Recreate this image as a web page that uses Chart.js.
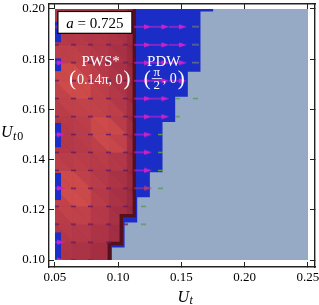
<!DOCTYPE html>
<html>
<head>
<meta charset="utf-8">
<script src="https://cdn.jsdelivr.net/npm/chart.js@4.4.1/dist/chart.umd.min.js"></script>
<style>
html,body{margin:0;padding:0;background:#ffffff;overflow:hidden;}
canvas{display:block;}
</style>
</head>
<body>
<canvas id="chart" width="319" height="305"></canvas>
<script>
// ---------------- data ----------------
const xTicks = [0.05, 0.10, 0.15, 0.20, 0.25];
const yTicks = [0.10, 0.12, 0.14, 0.16, 0.18, 0.20];
const xAxisRange = [0.045257, 0.255534];
const yAxisRange = [0.097233, 0.201976];
const domainX = [0.05, 0.25];
const domainY = [0.10, 0.20];

// PDW (blue) phase: right edge of the blue region in each U_t0 band
const pdwBandY = [0.100, 0.105, 0.115, 0.125, 0.135, 0.155, 0.165, 0.175, 0.199, 0.200];
const pdwEdgeX = [0.095, 0.105, 0.115, 0.125, 0.135, 0.145, 0.155, 0.165, 0.175];

// PWS* (red) phase: right edge in each U_t0 band
const pwsBandY = [0.100, 0.1066, 0.1177, 0.200];
const pwsEdgeX = [0.0929, 0.1024, 0.1127];

// thin PDW slivers along the left edge of the PWS* region
const stripY0 = [0.1000, 0.1238, 0.1448, 0.1752, 0.1866];
const stripY1 = [0.1111, 0.1348, 0.1547, 0.1804, 0.1950];
const stripX = 0.0548;

// shading of the PWS* region (rows bottom -> top, columns left -> right)
const shadeX = [0.05, 0.0643, 0.0786, 0.0929, 0.1071, 0.1214];
const shadeY = [0.1000, 0.1071, 0.1143, 0.1214, 0.1286, 0.1357, 0.1429, 0.1500,
                0.1571, 0.1643, 0.1714, 0.1786, 0.1857, 0.1929, 0.2000];
const pwsShade = [
  [0.25, 0.25, 0.20, 0.15, 0.10, 0.0],
  [0.30, 0.30, 0.25, 0.20, 0.10, 0.0],
  [0.35, 0.45, 0.35, 0.25, 0.15, 0.0],
  [0.40, 0.60, 0.45, 0.30, 0.15, 0.0],
  [0.45, 0.85, 0.45, 0.30, 0.20, 0.0],
  [0.45, 0.50, 0.40, 0.30, 0.20, 0.0],
  [0.35, 0.35, 0.40, 0.50, 0.25, 0.0],
  [0.30, 0.35, 0.40, 0.85, 0.30, 0.0],
  [0.35, 0.40, 0.45, 0.55, 0.30, 0.0],
  [0.45, 0.55, 0.45, 0.40, 0.25, 0.0],
  [0.45, 0.85, 0.50, 0.35, 0.20, 0.0],
  [0.40, 0.55, 0.40, 0.30, 0.20, 0.0],
  [0.35, 0.40, 0.35, 0.30, 0.20, 0.0],
  [0.30, 0.30, 0.30, 0.30, 0.20, 0.0],
  [0.30, 0.30, 0.30, 0.30, 0.20, 0.0]
];

// vector field sample points and marker kind per row (bottom -> top)
// B: strong arrow, b: weak arrow, R: short dash (PWS*), G: gray dash, g: green dash
const vecX = [0.0508, 0.0646, 0.0783, 0.0921, 0.1058, 0.1196, 0.1333, 0.1471,
              0.1608, 0.1746, 0.1883, 0.2021, 0.2158, 0.2296, 0.2433];
const vecY = [0.1000, 0.1071, 0.1143, 0.1214, 0.1286, 0.1357, 0.1429, 0.1500,
              0.1571, 0.1643, 0.1714, 0.1786, 0.1857, 0.1929];
const vecRows = [
  "BRR",
  "BRRR",
  "RRRRRg",
  "RRRRRg",
  "BRRRRbg",
  "RRRRRBg",
  "RRRRRBg",
  "BRRRRBg",
  "RRRRRBBg",
  "RRRRRBBgg",
  "RRRRRBBB",
  "BRRRRBBBG",
  "RRRRRBBBG",
  "BRRRRBBBG"
];

// ---------------- helpers ----------------
const COL = { gray: '#97aac5', blue: '#1a2dc6', red: '#b0384c', edge: '#55101e', frame: '#222222' };
const SERIF = '"Liberation Serif", "DejaVu Serif", serif';
const NONE = 'rgba(0,0,0,0)';

function pdwPolygon() {
  const pts = [{x: domainX[0], y: domainY[0]}];
  for (let k = 0; k < pdwEdgeX.length; k++) {
    pts.push({x: pdwEdgeX[k], y: pdwBandY[k]});
    pts.push({x: pdwEdgeX[k], y: pdwBandY[k + 1]});
  }
  pts.push({x: domainX[0], y: domainY[1]});
  pts.push({x: domainX[0], y: domainY[0]});
  return pts;
}
function pwsStair() {
  const pts = [];
  for (let k = pwsEdgeX.length - 1; k >= 0; k--) {
    pts.push({x: pwsEdgeX[k], y: pwsBandY[k + 1]});
    pts.push({x: pwsEdgeX[k], y: pwsBandY[k]});
  }
  return pts;
}
function pwsPolygon() {
  const pts = [{x: domainX[0], y: domainY[0]}];
  for (let s = 0; s < stripY0.length; s++) {
    pts.push({x: domainX[0], y: stripY0[s]});
    pts.push({x: stripX, y: stripY0[s]});
    pts.push({x: stripX, y: stripY1[s]});
    pts.push({x: domainX[0], y: stripY1[s]});
  }
  pts.push({x: domainX[0], y: domainY[1]});
  return pts.concat(pwsStair(), [{x: domainX[0], y: domainY[0]}]);
}
function grayRect() {
  return [{x: domainX[0], y: domainY[0]}, {x: domainX[1], y: domainY[0]},
          {x: domainX[1], y: domainY[1]}, {x: domainX[0], y: domainY[1]},
          {x: domainX[0], y: domainY[0]}];
}
function vecPoints(kind) {
  const pts = [];
  vecRows.forEach((row, j) => {
    for (let i = 0; i < row.length; i++) if (row[i] === kind) pts.push({x: vecX[i], y: vecY[j]});
  });
  return pts;
}
const shadeStops = [[0, [140, 34, 58]], [0.3, [176, 54, 72]], [0.6, [204, 74, 74]], [1, [232, 100, 80]]];
function shadeColor(v) {
  for (let k = 1; k < shadeStops.length; k++) {
    const [v0, c0] = shadeStops[k - 1], [v1, c1] = shadeStops[k];
    if (v <= v1) {
      const t = (v - v0) / (v1 - v0);
      return 'rgb(' + c0.map((c, q) => Math.round(c + (c1[q] - c) * t)).join(',') + ')';
    }
  }
  return 'rgb(232,100,80)';
}
function mkCanvas(w, h, draw) {
  const c = document.createElement('canvas'); c.width = w; c.height = h; draw(c.getContext('2d')); return c;
}
function arrowStyle(color) {
  return mkCanvas(18, 6, g => {
    g.strokeStyle = color; g.lineWidth = 1.2;
    g.beginPath(); g.moveTo(0, 3); g.lineTo(11, 3); g.stroke();
    g.fillStyle = color; g.beginPath(); g.moveTo(10, 0.4); g.lineTo(18, 3); g.lineTo(10, 5.6); g.closePath(); g.fill();
  });
}
function dashStyle(color, len, w) {
  return mkCanvas(len, 3, g => {
    g.strokeStyle = color; g.lineWidth = w;
    g.beginPath(); g.moveTo(0, 1.5); g.lineTo(len, 1.5); g.stroke();
  });
}
const dataClip = {left: -6, right: -7, top: -5, bottom: -7};

function polyDataset(label, data, color, order) {
  return { label, data, showLine: true, fill: 'shape', backgroundColor: color,
           borderWidth: 1, borderColor: NONE, pointRadius: 0, tension: 0, order, clip: dataClip };
}
function vecDataset(label, kind, style, order) {
  return { label, data: vecPoints(kind), showLine: false, pointStyle: style, pointRadius: 3,
           pointHoverRadius: 3, order, clip: dataClip };
}

// ---------------- plugins ----------------
const pwsTexture = {
  id: 'pwsTexture',
  afterDatasetDraw(chart, args) {
    if (chart.data.datasets[args.index].label !== 'PWS*') return;
    const {ctx} = chart, sx = chart.scales.x, sy = chart.scales.y;
    const P = (xv, yv) => [sx.getPixelForValue(xv), sy.getPixelForValue(yv)];
    ctx.save();
    ctx.beginPath();
    pwsPolygon().forEach((p, i) => { const [a, b] = P(p.x, p.y); i ? ctx.lineTo(a, b) : ctx.moveTo(a, b); });
    ctx.closePath();
    ctx.clip();
    const tri = (v) => {
      const avg = (pwsShade[v[0][1]][v[0][0]] + pwsShade[v[1][1]][v[1][0]] + pwsShade[v[2][1]][v[2][0]]) / 3;
      const c = shadeColor(avg);
      ctx.fillStyle = c; ctx.strokeStyle = c; ctx.lineWidth = 0.6;
      ctx.beginPath();
      v.forEach((q, n) => { const [a, b] = P(shadeX[q[0]], shadeY[q[1]]); n ? ctx.lineTo(a, b) : ctx.moveTo(a, b); });
      ctx.closePath(); ctx.fill(); ctx.stroke();
    };
    for (let j = 0; j < shadeY.length - 1; j++) {
      for (let i = 0; i < shadeX.length - 1; i++) {
        tri([[i, j + 1], [i + 1, j], [i, j]]);
        tri([[i, j + 1], [i + 1, j + 1], [i + 1, j]]);
      }
    }
    ctx.restore();
  }
};

function drawRuns(ctx, runs, x, baseline) {
  let cx = x;
  runs.forEach(r => {
    ctx.font = r.font;
    ctx.fillText(r.t, cx, baseline + (r.dy || 0));
    cx += ctx.measureText(r.t).width + (r.gap || 0);
  });
  return cx;
}
function runsWidth(ctx, runs) {
  let w = 0;
  runs.forEach(r => { ctx.font = r.font; w += ctx.measureText(r.t).width + (r.gap || 0); });
  return w;
}

const annotations = {
  id: 'annotations',
  afterDraw(chart) {
    const {ctx} = chart, sx = chart.scales.x, sy = chart.scales.y;
    ctx.save();
    ctx.textAlign = 'left';
    ctx.textBaseline = 'alphabetic';
    // parameter box
    const bx0 = sx.getPixelForValue(0.0523), bx1 = sx.getPixelForValue(0.1108);
    const by0 = sy.getPixelForValue(0.1990), by1 = sy.getPixelForValue(0.1903);
    ctx.fillStyle = '#ffffff';
    ctx.fillRect(bx0, by0, bx1 - bx0, by1 - by0);
    ctx.strokeStyle = '#000000'; ctx.lineWidth = 1.2;
    ctx.strokeRect(bx0, by0, bx1 - bx0, by1 - by0);
    ctx.fillStyle = '#000000';
    const aRuns = [{t: 'a', font: 'italic 15px ' + SERIF}, {t: ' = 0.725', font: '15px ' + SERIF}];
    const aw = runsWidth(ctx, aRuns);
    drawRuns(ctx, aRuns, (bx0 + bx1) / 2 - aw / 2, by1 - 5);

    // PWS* label
    ctx.fillStyle = '#ffffff';
    const pa = [sx.getPixelForValue(0.0861), sy.getPixelForValue(0.1772)];
    const r1 = [{t: 'PWS*', font: '15px ' + SERIF}];
    drawRuns(ctx, r1, pa[0] - runsWidth(ctx, r1) / 2, pa[1]);
    const r2 = [{t: '(', font: '21px ' + SERIF, gap: 1}, {t: '0.14\u03c0, 0', font: '14px ' + SERIF, dy: -1, gap: 1},
                {t: ')', font: '21px ' + SERIF}];
    drawRuns(ctx, r2, pa[0] - runsWidth(ctx, r2) / 2 - 1, pa[1] + 19);

    // PDW label
    const pb = [sx.getPixelForValue(0.1360), sy.getPixelForValue(0.1772)];
    const r3 = [{t: 'PDW', font: '15px ' + SERIF}];
    drawRuns(ctx, r3, pb[0] - runsWidth(ctx, r3) / 2, pb[1]);
    let cx = pb[0] - 20;
    ctx.font = '21px ' + SERIF;
    ctx.fillText('(', cx, pb[1] + 19);
    cx += ctx.measureText('(').width + 1;
    ctx.font = '13px ' + SERIF;
    const fw = 10;
    ctx.textAlign = 'center';
    ctx.fillText('\u03c0', cx + fw / 2, pb[1] + 10);
    ctx.fillText('2', cx + fw / 2, pb[1] + 22.5);
    ctx.fillRect(cx, pb[1] + 12, fw, 0.9);
    ctx.textAlign = 'left';
    cx += fw + 1;
    ctx.font = '14px ' + SERIF;
    ctx.fillText(', 0', cx, pb[1] + 17);
    cx += ctx.measureText(', 0').width + 1;
    ctx.font = '21px ' + SERIF;
    ctx.fillText(')', cx, pb[1] + 19);

    // axis titles
    ctx.fillStyle = '#000000';
    const ca = chart.chartArea;
    drawRuns(ctx, [{t: 'U', font: 'italic 16px ' + SERIF, gap: 0.5}, {t: 't', font: 'italic 12px ' + SERIF, dy: 3, gap: 0.8},
                   {t: '0', font: '12px ' + SERIF, dy: 3}], ca.left - 48, sy.getPixelForValue(0.1492));
    const xr = [{t: 'U', font: 'italic 16px ' + SERIF, gap: 0.5}, {t: 't', font: 'italic 12px ' + SERIF, dy: 2}];
    drawRuns(ctx, xr, sx.getPixelForValue(0.15) - 4, ca.bottom + 35);
    ctx.restore();
  }
};

// ---------------- chart ----------------
const frameGrid = {display: true, drawOnChartArea: false, drawTicks: true, tickLength: -5, color: COL.frame, tickWidth: 1};
const frameBorder = {display: true, color: COL.frame, width: 1.4};
const tickFont = {family: SERIF, size: 13};

new Chart(document.getElementById('chart'), {
  type: 'scatter',
  data: {
    datasets: [
      polyDataset('stable', grayRect(), COL.gray, 20),
      polyDataset('PDW', pdwPolygon(), COL.blue, 19),
      polyDataset('PWS*', pwsPolygon(), COL.red, 18),
      { label: 'boundary', data: pwsStair(), showLine: true, fill: false, borderColor: COL.edge,
        borderWidth: 3.4, borderJoinStyle: 'miter', pointRadius: 0, tension: 0, order: 17, clip: dataClip },
      vecDataset('pws-dash', 'R', dashStyle('#6c1f60', 5, 1.5), 6),
      vecDataset('gray-dash', 'G', dashStyle('#6c727c', 7, 1.5), 5),
      vecDataset('green-dash', 'g', dashStyle('#5c9c5c', 5, 1.4), 4),
      vecDataset('weak-arrow', 'b', arrowStyle('#a03c88'), 3),
      vecDataset('arrow', 'B', arrowStyle('#cc22cc'), 2)
    ]
  },
  options: {
    responsive: false,
    animation: false,
    events: [],
    layout: {padding: {top: 2, right: 4, left: 0, bottom: 0}},
    plugins: {legend: {display: false}, tooltip: {enabled: false}},
    scales: {
      x: {
        type: 'linear', position: 'bottom', min: xAxisRange[0], max: xAxisRange[1],
        afterBuildTicks: s => { s.ticks = xTicks.map(v => ({value: v})); },
        ticks: {callback: v => v.toFixed(2), font: tickFont, color: '#000', padding: 8, maxRotation: 0, autoSkip: false},
        grid: frameGrid, border: frameBorder,
        afterFit: s => { s.height = 38; s.paddingLeft = 0; s.paddingRight = 0; }
      },
      y: {
        type: 'linear', position: 'left', min: yAxisRange[0], max: yAxisRange[1],
        afterBuildTicks: s => { s.ticks = yTicks.map(v => ({value: v})); },
        ticks: {callback: v => v.toFixed(2), font: tickFont, color: '#000', padding: 9, autoSkip: false},
        grid: frameGrid, border: frameBorder,
        afterFit: s => { s.width = 49; s.paddingTop = 0; s.paddingBottom = 0; }
      },
      x2: {
        type: 'linear', position: 'top', min: xAxisRange[0], max: xAxisRange[1],
        afterBuildTicks: s => { s.ticks = xTicks.map(v => ({value: v})); },
        ticks: {display: false}, grid: frameGrid, border: frameBorder,
        afterFit: s => { s.height = 0; s.paddingLeft = 0; s.paddingRight = 0; }
      },
      y2: {
        type: 'linear', position: 'right', min: yAxisRange[0], max: yAxisRange[1],
        afterBuildTicks: s => { s.ticks = yTicks.map(v => ({value: v})); },
        ticks: {display: false}, grid: frameGrid, border: frameBorder,
        afterFit: s => { s.width = 0; s.paddingTop = 0; s.paddingBottom = 0; }
      }
    }
  },
  plugins: [pwsTexture, annotations]
});
</script>
</body>
</html>
